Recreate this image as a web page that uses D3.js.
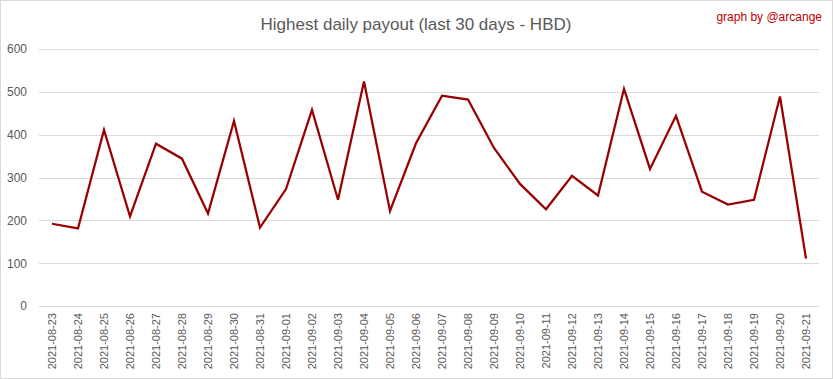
<!DOCTYPE html>
<html>
<head>
<meta charset="utf-8">
<script src="https://cdn.jsdelivr.net/npm/d3@7"></script>
<style>
  body { margin: 0; background: #fff; }
  text { font-family: "Liberation Sans", Arial, sans-serif; }
</style>
</head>
<body>
<div id="my_dataviz"></div>
<script>
var width = 833
var height = 379

// Data
var days = ["2021-08-23", "2021-08-24", "2021-08-25", "2021-08-26", "2021-08-27", "2021-08-28",
    "2021-08-29", "2021-08-30", "2021-08-31", "2021-09-01", "2021-09-02", "2021-09-03",
    "2021-09-04", "2021-09-05", "2021-09-06", "2021-09-07", "2021-09-08", "2021-09-09",
    "2021-09-10", "2021-09-11", "2021-09-12", "2021-09-13", "2021-09-14", "2021-09-15",
    "2021-09-16", "2021-09-17", "2021-09-18", "2021-09-19", "2021-09-20", "2021-09-21"]
var payout = [192, 181, 411, 209, 379, 344, 216, 432, 183, 273, 458, 248,
    524, 222, 380, 491, 482, 369, 285, 226, 304, 258, 507, 320,
    444, 267, 237, 248, 489, 111]
var yTicks = [0, 100, 200, 300, 400, 500, 600]

var margin = { left: 39, right: 14, top: 49, bottom: 73 }

var svg = d3.select("#my_dataviz")
    .append("svg")
    .attr("width", width)
    .attr("height", height)

// frame
svg.append("rect")
    .attr("x", 0.5).attr("y", 0.5)
    .attr("width", width - 1).attr("height", height - 1)
    .attr("fill", "#fff")
    .attr("stroke", "#d9d9d9")

var x = d3.scaleBand()
    .domain(days)
    .range([margin.left, width - margin.right])

var y = d3.scaleLinear()
    .domain([0, 600])
    .range([height - margin.bottom, margin.top])

// gridlines
svg.append("g")
    .selectAll("line")
    .data(yTicks)
    .enter()
    .append("line")
    .attr("x1", margin.left)
    .attr("x2", width - margin.right)
    .attr("y1", function (d) { return Math.round(y(d)) + 0.5 })
    .attr("y2", function (d) { return Math.round(y(d)) + 0.5 })
    .attr("stroke", "#d9d9d9")
    .attr("stroke-width", 1)

// y labels
var yAxis = svg.append("g")
    .attr("transform", "translate(" + (margin.left - 12) + ",0)")
    .call(d3.axisLeft(y).tickValues(yTicks).tickSize(0).tickPadding(0))
yAxis.select(".domain").remove()
yAxis.selectAll("text")
    .attr("fill", "#595959")
    .style("font-size", "12px")

// x labels
var xAxis = svg.append("g")
    .attr("transform", "translate(0," + (height - margin.bottom) + ")")
    .call(d3.axisBottom(x).tickSize(0))
xAxis.select(".domain").remove()
xAxis.selectAll("text")
    .attr("fill", "#595959")
    .style("font-size", "11px")
    .attr("text-anchor", "end")
    .attr("transform", "rotate(-90)")
    .attr("x", -7)
    .attr("y", 0)
    .attr("dy", "0.35em")

// line
var line = d3.line()
    .x(function (d, i) { return x(days[i]) + x.bandwidth() / 2 })
    .y(function (d) { return y(d) })

svg.append("path")
    .datum(payout)
    .attr("fill", "none")
    .attr("stroke", "#990000")
    .attr("stroke-width", 2.25)
    .attr("stroke-linejoin", "miter")
    .attr("d", line)

// title
svg.append("text")
    .attr("x", 416)
    .attr("y", 30)
    .attr("text-anchor", "middle")
    .attr("fill", "#595959")
    .style("font-size", "17px")
    .text("Highest daily payout (last 30 days - HBD)")

svg.append("text")
    .attr("x", 822)
    .attr("y", 21)
    .attr("text-anchor", "end")
    .attr("fill", "#c00000")
    .style("font-size", "12px")
    .text("graph by @arcange")
</script>
</body>
</html>
